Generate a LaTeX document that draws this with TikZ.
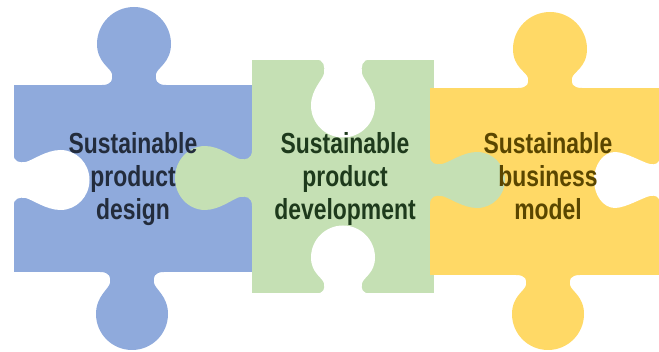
\documentclass[tikz,border=0pt]{standalone}
\usepackage{fontspec}
\newfontfamily\puzfont{Liberation Sans}[FakeStretch=0.79]
\definecolor{pblue}{HTML}{8FAADC}
\definecolor{pgreen}{HTML}{C5E0B4}
\definecolor{pyellow}{HTML}{FFD966}
\definecolor{tblue}{HTML}{232C3C}
\definecolor{tgreen}{HTML}{1E3A1C}
\definecolor{tyellow}{HTML}{5A4600}
% #1 position on edge, #2 rotation, #3 bulb half-width along edge, #4 bulb radius across,
% #5 bulb centre distance from edge, #6 neck half-width, #7 waist distance, #8 fillet, #9 colour
\newcommand{\puzknob}[9]{%
  \begin{scope}[shift={#1}, rotate=#2]
    \fill[#9] ({-#6-#8},0) .. controls ({-#6},0) and ({-#6+1},{-#7/2}) .. ({-#6},{-#7})
      .. controls ({-#6-1},{-#7-6}) and ({-#3},{-#5+#4/2}) .. ({-#3},{-#5})
      arc[start angle=180, end angle=360, x radius=#3, y radius=#4]
      .. controls ({#3},{-#5+#4/2}) and ({#6+1},{-#7-6}) .. ({#6},{-#7})
      .. controls ({#6-1},{-#7/2}) and ({#6},0) .. ({#6+#8},0)
      -- ({#6+#8},3) -- ({-#6-#8},3) -- cycle;
  \end{scope}}
\tikzset{lbl/.style={font=\puzfont\bfseries\fontsize{29}{33}\selectfont,
  align=center, anchor=north, inner sep=0pt}}
\begin{document}
\begin{tikzpicture}[x=1pt,y=-1pt]
\useasboundingbox (0,0) rectangle (659,352);
% blue piece
\fill[pblue] (14,85) rectangle (256,272);
\puzknob{(134,85)}{0}{37}{37}{41}{22}{11}{10}{pblue}
\puzknob{(132,272)}{180}{36}{36}{42}{22}{11}{10}{pblue}
\puzknob{(13.5,180)}{-90}{30}{29}{47}{18}{12}{8}{white}
% green piece
\fill[pgreen] (252,60) rectangle (434,293);
\puzknob{(343,59.5)}{180}{32}{32}{46}{19}{14}{8}{white}
\puzknob{(343,293.5)}{0}{32}{32}{36}{19}{10}{8}{white}
% yellow piece
\fill[pyellow] (430,88) rectangle (660,275);
\puzknob{(550,88)}{0}{37}{37}{39}{22}{10}{10}{pyellow}
\puzknob{(548,275)}{180}{36}{36}{39}{22}{10}{10}{pyellow}
\puzknob{(660,180)}{90}{28}{21}{45}{16}{10}{8}{white}
% green tabs
\puzknob{(252,178)}{90}{32}{30}{47}{19}{12}{9}{pgreen}
\puzknob{(430,180)}{-90}{28}{28}{47}{16}{12}{8}{pgreen}
% labels
\node[lbl, text=tblue] (tb) at (133,132) {Sustainable\\product\\design};
\node[lbl, text=tgreen] (tg) at (345,132) {Sustainable\\product\\development};
\node[lbl, text=tyellow] (ty) at (548,132) {Sustainable\\business\\model};
\end{tikzpicture}
\end{document}
